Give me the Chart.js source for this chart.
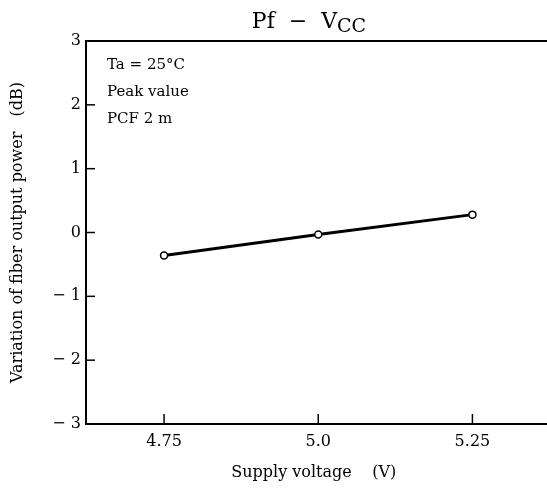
<!DOCTYPE html>
<html>
<head>
<meta charset="utf-8">
<script src="https://cdn.jsdelivr.net/npm/chart.js@4.4.0/dist/chart.umd.min.js"></script>
<style>
  html, body { margin: 0; padding: 0; background: #fff; }
  #wrap { width: 547px; height: 491px; }
</style>
</head>
<body>
<div id="wrap"><canvas id="chart" width="547" height="491"></canvas></div>
<script>
// --- Data ---
const voltages = [4.75, 5.0, 5.25];
const powerVariation = [-0.36, -0.03, 0.28];
const xTicks = [4.75, 5.0, 5.25];
const yTicks = [-3, -2, -1, 0, 1, 2, 3];
const notes = ["Ta = 25\u00b0C", "Peak value", "PCF 2 m"];

const FONT = "'DejaVu Serif', 'Liberation Serif', serif";

// --- Plugin: title with subscript, notes, inward ticks ---
const decor = {
  id: "decor",
  afterDraw(chart) {
    const c = chart.ctx;
    const area = chart.chartArea;
    const xs = chart.scales.x;
    const ys = chart.scales.y;
    c.save();
    c.fillStyle = "#000";
    c.strokeStyle = "#000";

    // title
    c.textBaseline = "alphabetic";
    const main = "Pf  \u2212  V";
    c.font = "22px " + FONT;
    const w1 = c.measureText(main).width;
    c.font = "19px " + FONT;
    const w2 = c.measureText("CC").width;
    let tx = 309 - (w1 + w2) / 2;
    c.font = "22px " + FONT;
    c.textAlign = "left";
    c.fillText(main, tx, 28);
    c.font = "19px " + FONT;
    c.fillText("CC", tx + w1, 32);

    // notes
    c.font = "15px " + FONT;
    notes.forEach((t, i) => c.fillText(t, 107, 69 + i * 27));

    // inward ticks
    c.lineWidth = 1.5;
    yTicks.forEach(v => {
      const py = ys.getPixelForValue(v);
      c.beginPath();
      c.moveTo(area.left, py);
      c.lineTo(area.left + 9, py);
      c.stroke();
    });
    xTicks.forEach(v => {
      const px = xs.getPixelForValue(v);
      c.beginPath();
      c.moveTo(px, area.bottom);
      c.lineTo(px, area.bottom - 10);
      c.stroke();
    });

    // axes frame: left, bottom, top
    c.lineWidth = 2;
    c.beginPath();
    c.moveTo(chart.width, area.top);
    c.lineTo(area.left, area.top);
    c.lineTo(area.left, area.bottom);
    c.lineTo(chart.width, area.bottom);
    c.stroke();
    c.restore();
  }
};

new Chart(document.getElementById("chart"), {
  type: "scatter",
  data: {
    datasets: [{
      data: voltages.map((v, i) => ({ x: v, y: powerVariation[i] })),
      showLine: true,
      borderColor: "#000",
      borderWidth: 3,
      pointRadius: 3.5,
      pointBackgroundColor: "#fff",
      pointBorderColor: "#000",
      pointBorderWidth: 1.5,
    }]
  },
  options: {
    responsive: false,
    animation: false,
    events: [],
    layout: { padding: { left: 4, right: 0, top: 41, bottom: 0 } },
    plugins: { legend: { display: false }, tooltip: { enabled: false } },
    scales: {
      x: {
        type: "linear",
        min: 4.6234,
        max: 5.362,
        afterBuildTicks: s => { s.ticks = xTicks.map(v => ({ value: v })); },
        afterFit: s => { s.height = 67; },
        grid: { display: false, drawTicks: false },
        border: { display: false },
        ticks: {
          color: "#000",
          font: { family: FONT, size: 16 },
          padding: 8,
          callback: v => (v === 5 ? "5.0" : String(v)),
        },
        title: {
          display: true,
          text: "Supply voltage    (V)",
          color: "#000",
          font: { family: FONT, size: 16 },
          padding: { top: 8, bottom: 9 },
        },
      },
      y: {
        min: -3,
        max: 3,
        afterBuildTicks: s => { s.ticks = yTicks.map(v => ({ value: v })); },
        afterFit: s => { s.width = 82; },
        grid: { display: false, drawTicks: false },
        border: { display: false },
        ticks: {
          color: "#000",
          font: { family: FONT, size: 16 },
          padding: 5,
          callback: v => (v < 0 ? "\u2212 " + Math.abs(v) : String(v)),
        },
        title: {
          display: true,
          text: "Variation of fiber output power   (dB)",
          color: "#000",
          font: { family: FONT, size: 16 },
          padding: { bottom: 0 },
        },
      },
    },
  },
  plugins: [decor],
});
</script>
</body>
</html>
